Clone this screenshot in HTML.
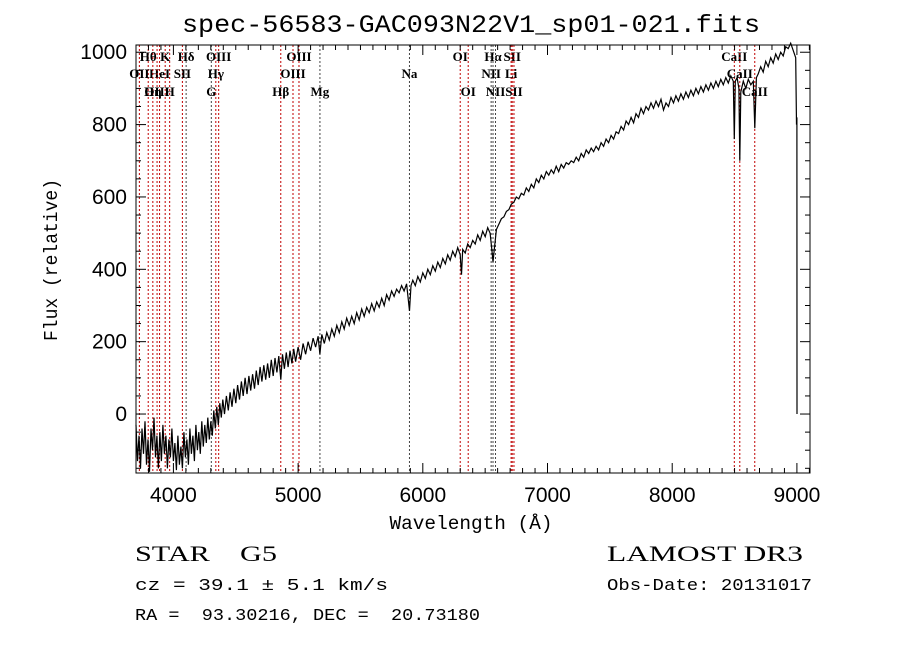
<!DOCTYPE html>
<html><head><meta charset="utf-8"><style>
html,body{margin:0;padding:0;background:#fff;}
svg{display:block;font-family:"Liberation Serif",serif;}
.mono{font-family:"Liberation Mono",monospace;}
text{white-space:pre;}
</style></head><body>
<svg id="chart" width="900" height="649" viewBox="0 0 900 649" xmlns="http://www.w3.org/2000/svg" xml:space="preserve">
<rect x="0" y="0" width="900" height="649" fill="#fff"/>
<text class="mono" x="471" y="32" font-size="25" text-anchor="middle" textLength="578" lengthAdjust="spacingAndGlyphs">spec-56583-GAC093N22V1_sp01-021.fits</text>
<g id="lines"></g>
<g id="spec"></g>
<g id="axes"></g>
<text class="mono" x="471" y="529" font-size="19" text-anchor="middle" textLength="163" lengthAdjust="spacingAndGlyphs">Wavelength (Å)</text>
<text class="mono" transform="translate(57,260) rotate(-90)" font-size="19" text-anchor="middle" textLength="162" lengthAdjust="spacingAndGlyphs">Flux (relative)</text>
<text x="135" y="561" font-size="22" textLength="142" lengthAdjust="spacingAndGlyphs">STAR    G5</text>
<text class="mono" x="135" y="590" font-size="17" textLength="253" lengthAdjust="spacingAndGlyphs">cz = 39.1 ± 5.1 km/s</text>
<text class="mono" x="135" y="620" font-size="17" textLength="345" lengthAdjust="spacingAndGlyphs">RA =  93.30216, DEC =  20.73180</text>
<text x="607" y="561" font-size="22" textLength="196" lengthAdjust="spacingAndGlyphs">LAMOST DR3</text>
<text class="mono" x="607" y="590" font-size="17" textLength="205" lengthAdjust="spacingAndGlyphs">Obs-Date: 20131017</text>
</svg>
<script>
const wave=[3700,3712,3724,3736,3748,3760,3772,3784,3796,3808,3820,3832,3844,3856,3868,3880,3892,3904,3916,3928,3940,3952,3964,3976,3988,4000,4012,4024,4036,4048,4060,4072,4084,4096,4108,4120,4132,4144,4156,4168,4180,4192,4204,4216,4228,4240,4252,4264,4276,4288,4300,4312,4324,4336,4348,4360,4372,4384,4396,4410,4425,4440,4455,4470,4485,4500,4515,4530,4545,4560,4575,4590,4605,4620,4635,4650,4665,4680,4695,4710,4725,4740,4755,4770,4785,4800,4815,4830,4845,4861,4875,4890,4905,4920,4935,4950,4965,4980,5000,5020,5040,5060,5080,5100,5120,5140,5160,5175,5190,5210,5230,5250,5270,5290,5310,5330,5350,5370,5390,5410,5430,5450,5470,5490,5510,5530,5550,5570,5590,5610,5630,5650,5670,5690,5710,5730,5750,5770,5790,5810,5830,5850,5870,5893,5905,5920,5940,5960,5980,6000,6020,6040,6060,6080,6100,6120,6140,6160,6180,6200,6220,6240,6260,6280,6300,6310,6320,6340,6360,6380,6400,6420,6440,6460,6480,6500,6520,6540,6555,6563,6575,6590,6610,6630,6650,6670,6690,6710,6730,6750,6770,6790,6810,6830,6850,6870,6890,6910,6930,6950,6970,6990,7010,7030,7050,7070,7090,7110,7130,7150,7170,7190,7210,7230,7250,7270,7290,7310,7330,7350,7370,7390,7410,7430,7450,7470,7490,7510,7530,7550,7570,7590,7610,7630,7650,7670,7690,7710,7730,7750,7770,7790,7810,7830,7850,7870,7890,7910,7930,7950,7970,7990,8010,8030,8050,8070,8090,8110,8130,8150,8170,8190,8210,8230,8250,8270,8290,8310,8330,8350,8370,8390,8410,8430,8450,8470,8490,8498,8506,8520,8535,8542,8550,8570,8590,8610,8630,8650,8662,8675,8690,8710,8730,8750,8770,8790,8810,8830,8850,8870,8890,8910,8930,8950,8970,8990,8997,9000,9001];
const flux=[-30,-130,-60,-150,-40,-110,-20,-140,-70,-160,-40,-100,-10,-120,-60,-150,-50,-130,-30,-110,-60,-150,-70,-120,-40,-130,-80,-155,-60,-140,-90,-150,-50,-120,-70,-140,-40,-110,-60,-130,-30,-100,-50,-110,-20,-90,-30,-80,-10,-70,-20,-60,10,-40,20,-30,30,-10,40,0,50,10,60,20,70,30,80,40,90,50,100,55,105,65,110,70,120,80,130,90,135,95,140,100,150,105,155,115,160,95,165,125,170,130,175,140,180,145,185,150,195,165,200,175,210,185,215,165,220,195,225,205,235,215,245,225,255,235,265,245,270,250,280,260,290,270,295,280,305,285,310,295,320,300,330,315,340,325,345,335,355,340,360,285,355,370,355,380,365,390,375,400,385,410,395,420,405,430,415,440,425,450,435,460,440,385,455,445,470,460,480,470,495,480,505,490,515,500,450,420,460,510,525,540,545,560,565,580,585,600,595,610,605,625,615,635,625,650,640,660,650,670,660,675,665,685,670,690,680,695,690,700,695,710,700,720,710,730,720,735,725,740,730,750,740,760,750,770,760,780,775,795,785,810,800,820,805,830,820,845,830,850,840,860,845,865,850,870,840,860,850,875,860,880,865,885,870,890,875,895,880,900,885,905,890,910,895,915,900,920,905,925,910,930,915,935,920,760,920,930,900,700,890,920,900,925,910,920,790,930,940,960,945,975,960,985,970,995,980,1000,990,1015,1010,1025,1005,985,800,820,0];
const lineWave=[3798,3934,4102,4363,5007,6300,6563,6717,8498,3727,3889,4072,4340,4959,5893,6548,6708,8542,3869,3835,3970,4304,4861,5175,6364,6583,6731,8662];
const lineLabel=["Hθ","K","Hδ","OIII","OIII","OI","Hα","SII","CaII","OII","HeI","SII","Hγ","OIII","Na","NII","Li","CaII","OIII","Hη","H","G","Hβ","Mg","OI","NII","SII","CaII"];
const lineRow=[0,0,0,0,0,0,0,0,0,1,1,1,1,1,1,1,1,1,2,2,2,2,2,2,2,2,2,2];
const lineBlack=[0,0,1,0,0,0,1,0,0,0,0,0,0,0,1,1,0,0,0,0,0,1,0,1,0,1,0,0];
const xTicks=[4000,5000,6000,7000,8000,9000];
const yTicks=[0,200,400,600,800,1000];
const X0=136,X1=810,Y0=45,Y1=473,WMIN=3700,WMAX=9105,FMIN=-163,FMAX=1020;
const NS="http://www.w3.org/2000/svg";
function xs(w){return X0+(w-WMIN)/(WMAX-WMIN)*(X1-X0);}
function ys(f){return Y1-(f-FMIN)/(FMAX-FMIN)*(Y1-Y0);}
function mk(t,p,a){const e=document.createElementNS(NS,t);for(const k in a)e.setAttribute(k,a[k]);p.appendChild(e);return e;}
const gl=document.getElementById('lines');
const rowY=[61,78,96];
for(let i=0;i<lineWave.length;i++){
  const x=xs(lineWave[i]);
  const l=mk('line',gl,{x1:x,x2:x,y1:Y0,y2:Y1,stroke:lineBlack[i]?'#444':'#c00000','stroke-width':1,'stroke-dasharray':'2,2'});
  
  
  const t=mk('text',gl,{x:x,y:rowY[lineRow[i]],'font-size':13,'text-anchor':'middle','font-weight':'bold'});
  t.textContent=lineLabel[i];
  
  
}
const gs=document.getElementById('spec');
let d='';
for(let i=0;i<wave.length;i++){d+=(i?'L':'M')+xs(wave[i]).toFixed(1)+','+ys(flux[i]).toFixed(1);}
const p=mk('path',gs,{d:d,fill:'none',stroke:'#000','stroke-width':1.2});


const ga=document.getElementById('axes');
const fr=mk('rect',ga,{x:X0,y:Y0,width:X1-X0,height:Y1-Y0,fill:'none',stroke:'#000','stroke-width':1});


for(let w=3700;w<=9100;w+=100){
  const x=xs(w),L=(w%1000===0)?10:5;
  mk('line',ga,{x1:x,x2:x,y1:Y1,y2:Y1-L,stroke:'#000'});
  mk('line',ga,{x1:x,x2:x,y1:Y0,y2:Y0+L,stroke:'#000'});
}
for(let f=-150;f<=1000;f+=50){
  const y=ys(f),L=(f%200===0)?10:5;
  mk('line',ga,{x1:X0,x2:X0+L,y1:y,y2:y,stroke:'#000'});
  mk('line',ga,{x1:X1,x2:X1-L,y1:y,y2:y,stroke:'#000'});
}
xTicks.forEach(w=>{
  const t=mk('text',ga,{x:xs(w),y:502,'font-size':21,'text-anchor':'middle','font-family':'Liberation Sans, sans-serif'});
  t.textContent=w;
  
  
});
yTicks.forEach(f=>{
  const t=mk('text',ga,{x:127,y:ys(f)+7,'font-size':21,'text-anchor':'end','font-family':'Liberation Sans, sans-serif'});
  t.textContent=f;
  
  
});
</script>
</body></html>
